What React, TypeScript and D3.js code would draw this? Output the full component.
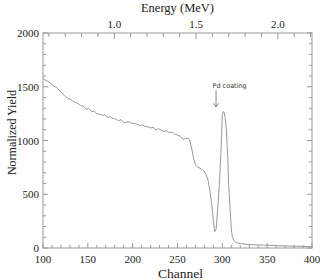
import React, { useEffect, useRef } from 'react';
import * as d3 from 'd3';

// spectrum (channel, normalized yield)
const channels = [
  100, 103, 106, 109, 112, 115, 118, 121, 124, 127, 130, 133, 136, 139, 142, 145, 148, 151, 154, 157,
  160, 163, 166, 169, 172, 175, 178, 181, 184, 187, 190, 193, 196, 199, 202, 205, 208, 211, 214, 217,
  220, 223, 226, 229, 232, 235, 238, 241, 244, 247, 250, 253, 256, 259, 262, 264, 266, 268, 270, 272,
  275, 278, 280, 282, 284, 286, 288, 290, 291.5, 293, 295, 297, 298.5, 300, 301, 302, 303, 304.5, 306, 307,
  308.5, 310, 311, 312.5, 315, 318, 325, 335, 345, 360, 375, 390, 400,
];
const yields = [
  1575, 1560, 1548, 1530, 1505, 1495, 1470, 1440, 1420, 1395, 1385, 1370, 1355, 1345, 1325, 1320, 1290, 1300, 1268, 1275,
  1250, 1245, 1235, 1240, 1215, 1220, 1205, 1200, 1185, 1195, 1165, 1170, 1175, 1158, 1160, 1150, 1140, 1145, 1130, 1128,
  1118, 1122, 1100, 1110, 1095, 1085, 1090, 1072, 1078, 1060, 1050, 1040, 1012, 1018, 1022, 995, 920, 830, 775, 755,
  742, 728, 712, 680, 632, 540, 416, 260, 152, 170, 384, 640, 900, 1240, 1270, 1260, 1221, 1100, 849, 600,
  384, 180, 110, 74, 52, 44, 36, 30, 27, 22, 18, 15, 12,
];

const channelTicks = [100, 150, 200, 250, 300, 350, 400];
const yieldTicks = [0, 500, 1000, 1500, 2000];
const energyTicks = [1.0, 1.5, 2.0];

// energy (MeV) at the two ends of the channel axis
const energyDomain = [0.564, 2.209];

const W = 320;
const H = 280;

const App: React.FC = () => {
  const svgRef = useRef<SVGSVGElement>(null);

  useEffect(() => {
    if (!svgRef.current) return;
    const svg = d3.select(svgRef.current);
    svg.selectAll('*').remove();

    const margin = { top: 33, right: 8, bottom: 32, left: 43 };
    const innerWidth = W - margin.left - margin.right;
    const innerHeight = H - margin.top - margin.bottom;
    const axisColor = '#999';
    const serif = '"Liberation Serif", "Times New Roman", serif';

    const x = d3.scaleLinear().domain([100, 400]).range([0, innerWidth]);
    const xE = d3.scaleLinear().domain(energyDomain).range([0, innerWidth]);
    const y = d3.scaleLinear().domain([0, 2000]).range([innerHeight, 0]);

    const g = svg.append('g').attr('transform', `translate(${margin.left},${margin.top})`);

    // frame
    g.append('rect')
      .attr('width', innerWidth)
      .attr('height', innerHeight)
      .attr('fill', 'none')
      .attr('stroke', axisColor)
      .attr('stroke-width', 1);

    const ticks = g.append('g').attr('stroke', axisColor).attr('stroke-width', 1);

    // bottom channel ticks (inside)
    d3.range(100, 401, 10).forEach(c => {
      const len = c % 50 === 0 ? 5 : 3;
      ticks.append('line')
        .attr('x1', x(c)).attr('x2', x(c))
        .attr('y1', innerHeight).attr('y2', innerHeight - len);
    });

    // top energy ticks (inside)
    d3.range(6, 23).map(v => v / 10).forEach(e => {
      const major = Math.abs(e * 2 - Math.round(e * 2)) < 1e-6;
      ticks.append('line')
        .attr('x1', xE(e)).attr('x2', xE(e))
        .attr('y1', 0).attr('y2', major ? 6 : 4);
    });

    // left/right yield ticks (inside)
    d3.range(0, 2001, 100).forEach(v => {
      const len = v % 500 === 0 ? 5 : 3;
      ticks.append('line')
        .attr('x1', 0).attr('x2', len)
        .attr('y1', y(v)).attr('y2', y(v));
      ticks.append('line')
        .attr('x1', innerWidth).attr('x2', innerWidth - len)
        .attr('y1', y(v)).attr('y2', y(v));
    });

    // tick labels
    g.selectAll('.xlab')
      .data(channelTicks)
      .enter()
      .append('text')
      .attr('x', d => x(d))
      .attr('y', innerHeight + 15)
      .attr('text-anchor', 'middle')
      .style('font-family', serif)
      .style('font-size', '11px')
      .attr('fill', '#222')
      .text(d => String(d));

    g.selectAll('.ylab')
      .data(yieldTicks)
      .enter()
      .append('text')
      .attr('x', -4)
      .attr('y', d => y(d) + 4)
      .attr('text-anchor', 'end')
      .style('font-family', serif)
      .style('font-size', '11px')
      .attr('fill', '#222')
      .text(d => String(d));

    g.selectAll('.elab')
      .data(energyTicks)
      .enter()
      .append('text')
      .attr('x', d => xE(d))
      .attr('y', -5)
      .attr('text-anchor', 'middle')
      .style('font-family', serif)
      .style('font-size', '11px')
      .attr('fill', '#222')
      .text(d => d.toFixed(1));

    // axis titles
    svg.append('text')
      .attr('x', margin.left + innerWidth / 2 + 0)
      .attr('y', 12)
      .attr('text-anchor', 'middle')
      .style('font-family', serif)
      .style('font-size', '12.5px')
      .attr('fill', '#222')
      .text('Energy (MeV)');

    svg.append('text')
      .attr('x', margin.left + innerWidth / 2 + 3)
      .attr('y', 278)
      .attr('text-anchor', 'middle')
      .style('font-family', serif)
      .style('font-size', '13.5px')
      .attr('fill', '#222')
      .text('Channel');

    svg.append('text')
      .attr('transform', `translate(16,${margin.top + innerHeight / 2 - 8}) rotate(-90)`)
      .attr('text-anchor', 'middle')
      .style('font-family', serif)
      .style('font-size', '12px')
      .attr('fill', '#222')
      .text('Normalized Yield');

    // spectrum
    const pts = channels.map((c, i) => [c, yields[i]] as [number, number]);
    const line = d3.line<[number, number]>()
      .x(d => x(d[0]))
      .y(d => y(d[1]));

    g.append('path')
      .datum(pts)
      .attr('d', line)
      .attr('fill', 'none')
      .attr('stroke', '#9a9a9a')
      .attr('stroke-width', 1)
      .attr('stroke-linejoin', 'round');

    // Pd coating annotation
    const arrowCh = 293;
    g.append('line')
      .attr('x1', x(arrowCh)).attr('x2', x(arrowCh))
      .attr('y1', y(1465)).attr('y2', y(1315))
      .attr('stroke', '#666')
      .attr('stroke-width', 0.8);
    g.append('path')
      .attr('d', `M${x(arrowCh) - 2.5},${y(1345)} L${x(arrowCh)},${y(1312)} L${x(arrowCh) + 2.5},${y(1345)}`)
      .attr('fill', 'none')
      .attr('stroke', '#666')
      .attr('stroke-width', 0.8);
    g.append('text')
      .attr('x', x(289))
      .attr('y', y(1490))
      .style('font-family', '"DejaVu Sans", sans-serif')
      .style('font-size', '6.5px')
      .attr('fill', '#333')
      .text('Pd coating');
  }, []);

  return (
    <svg
      ref={svgRef}
      width={W}
      height={H}
      style={{ position: 'absolute', left: 0, top: 0, background: '#fff' }}
    />
  );
};

export default App;
